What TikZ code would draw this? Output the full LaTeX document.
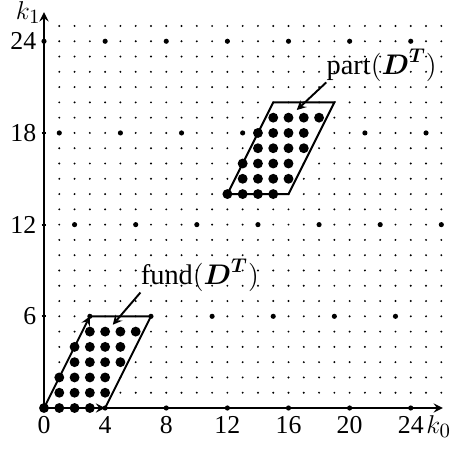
\documentclass[tikz,border=0pt]{standalone}
\usepackage{fix-cm}
\usepackage{amsmath}
\usepackage{fontspec}
\setmainfont{Liberation Serif}
\newcommand{\axlab}[1]{$k_{\mbox{\fontsize{9.4}{11}\selectfont$#1$}}$}
\begin{document}
\begin{tikzpicture}[>=stealth,x=0.25cm,y=0.25cm,font=\large,
  lab/.style={inner sep=0pt},
  region lab/.style={inner sep=0pt,font=\fontsize{13.2}{16}\selectfont},
  grid dot/.style={fill,circle,inner sep=0pt,minimum size=1pt},
  lattice dot/.style={fill,circle,inner sep=0pt,minimum size=2.4pt},
  cell dot/.style={fill,circle,inner sep=0pt,minimum size=4.6pt},
  line/.style={line width=0.9pt}]
\useasboundingbox (-2.88,-2.62) rectangle (26.83,26.70);

\foreach \i in {1,...,26}
  \foreach \j in {1,...,25}
    \node[grid dot] at (\i,\j) {};

\foreach \b in {0,...,4}
  \foreach \m in {0,...,6} {
    \pgfmathtruncatemacro\x{mod(3*\b,4)+4*\m}
    \ifnum\x<27 \node[lattice dot] at (\x,6*\b) {}; \fi
  }

\foreach \j in {0,...,5} {
  \pgfmathtruncatemacro\s{(\j+1)/2}
  \foreach \i in {0,...,3} {
    \node[cell dot] at (\s+\i,\j) {};
    \node[cell dot] at (12+\s+\i,14+\j) {};
  }
}

\coordinate (O) at (0,0);
\coordinate (v0) at (4,0);
\coordinate (v1) at (3,6);
\coordinate (xend) at (26.1,0);
\coordinate (yend) at (0,25.9);

\draw[->,line] (O) -- (xend);
\draw[->,line] (O) -- (yend);
\foreach \t in {4,8,...,24}
  \draw[line] (\t,-0.15) -- (\t,0.15);
\foreach \t in {6,12,18,24}
  \draw[line] (-0.15,\t) -- (0.15,\t);

\foreach \t in {0,4,...,24}
  \node[lab,anchor=base] (x\t) at (\t,-1.64) {\t};
\foreach \t in {6,12,18,24}
  \node[lab,anchor=east] (y\t) at (-0.48,\t) {\t};
\node[lab,anchor=base west] (k0) at (25.0,-1.64) {\axlab{0}};
\node[lab,anchor=base east] (k1) at (-0.2,25.45) {\axlab{1}};

\draw[->,line] (O) -- (v0);
\draw[->,line] (O) -- (v1);
\draw[line] (v0) -- (7,6) -- (v1);
\draw[line] (12,14) -- (16,14) -- (19,20) -- (15,20) -- cycle;

\node[region lab,anchor=base] (fund) at (10.2,8.05) {fund$(\boldsymbol{D}^{\boldsymbol{T}})$};
\node[region lab,anchor=base] (part) at (22.1,21.8) {part$(\boldsymbol{D}^{\boldsymbol{T}})$};
\coordinate (fundtip) at (4.5,5.45);
\coordinate (parttip) at (16.54,19.5);
\draw[->,line] (fund.south west) -- (fundtip);
\draw[->,line] (part.south west) -- (parttip);
\end{tikzpicture}
\end{document}
